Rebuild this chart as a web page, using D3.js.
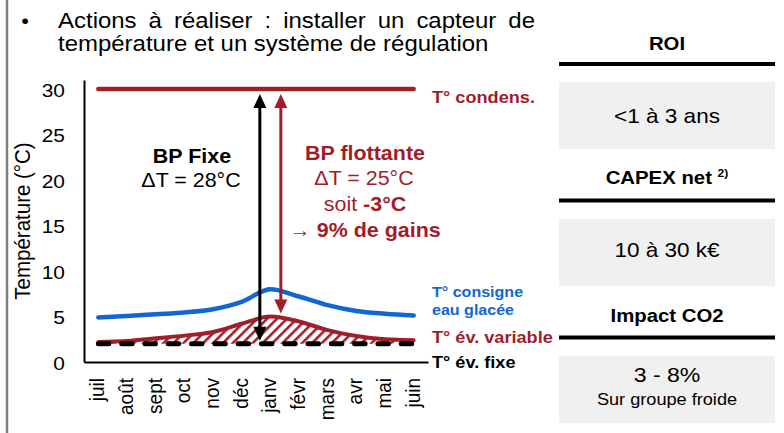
<!DOCTYPE html>
<html>
<head>
<meta charset="utf-8">
<script src="https://cdn.jsdelivr.net/npm/d3@7"></script>
<style>
  html, body { margin: 0; padding: 0; background: #fff; }
  svg { display: block; font-family: "Liberation Sans", Arial, sans-serif; }
</style>
</head>
<body>
<svg id="chart" width="784" height="433"></svg>
<script>
// Months of the cooling season (July → June)
const months = ["juil", "août", "sept", "oct", "nov", "déc", "janv", "févr", "mars", "avr", "mai", "juin"];
// Condensing temperature (°C), constant
const condens = [30, 30, 30, 30, 30, 30, 30, 30, 30, 30, 30, 30];
// Chilled-water set point (°C)
const consigne = [4.9, 5.05, 5.25, 5.45, 5.8, 6.6, 8.0, 7.2, 6.25, 5.6, 5.3, 5.1];
// Evaporating temperature with floating low pressure (°C)
const evVariable = [2.2, 2.3, 2.6, 2.9, 3.3, 4.2, 5.0, 4.45, 3.5, 2.85, 2.5, 2.4];
// Evaporating temperature with fixed low pressure (°C)
const evFixe = [2, 2, 2, 2, 2, 2, 2, 2, 2, 2, 2, 2];
// Temperature spans shown by the two arrows (low, high)
const bpFixe = [2, 30];
const bpFlottante = [5, 30];
const yTicks = [0, 5, 10, 15, 20, 25, 30];

// Side panel: heading / value pairs
const panelHeads = ["ROI", "CAPEX net ", "Impact CO2"];
const panelValues = ["<1 à 3 ans", "10 à 30 k€", "3 - 8%"];

const RED = "#a11d2a", BLUE = "#1366d2", SX = 1.1;
const FONT = '"Liberation Sans", Arial, sans-serif';
const svg = d3.select("#chart");

// Text helper: horizontally widened glyphs, optional rotation, mixed-weight segments
function label(parent, x, y, segs, o = {}) {
  const t = parent.append("text")
    .attr("transform", `translate(${x},${y}) scale(${o.sx || SX},1)` + (o.rot ? ` rotate(${o.rot})` : ""))
    .attr("text-anchor", o.anchor || "start")
    .attr("font-family", FONT)
    .attr("font-size", o.size || 18)
    .attr("fill", o.fill || "#000");
  if (typeof segs === "string") segs = [{ t: segs, w: o.weight || 400 }];
  segs.forEach(s => {
    const ts = t.append("tspan").text(s.t).attr("font-weight", s.w || 400);
    if (s.size) ts.attr("font-size", s.size);
    if (s.dy) ts.attr("dy", s.dy);
  });
  return t;
}

// Left frame line
svg.append("line").attr("x1", 7).attr("x2", 7).attr("y1", 0).attr("y2", 433)
  .attr("stroke", "#7f7f7f").attr("stroke-width", 2.5);

// Bullet text (first line justified)
label(svg, 25, 27.5, "•", { size: 20, anchor: "middle" });
const l1 = label(svg, 58, 27.5, "Actions à réaliser : installer un capteur de", { size: 21.8 });
{
  const natural = l1.node().getComputedTextLength();
  const target = (535 - 58) / SX;
  l1.attr("word-spacing", (target - natural) / 7);
}
label(svg, 58, 51, "température et un système de régulation", { size: 21.8 });

// Scales
const x = d3.scaleBand().domain(months).range([84, 428]);
const y = d3.scaleLinear().domain([0, 31]).range([362, 80]);
const cx = m => x(m) + x.bandwidth() / 2;

// Hatch pattern for the energy gain area
const defs = svg.append("defs");
const pat = defs.append("pattern").attr("id", "hatch").attr("patternUnits", "userSpaceOnUse")
  .attr("width", 7).attr("height", 7).attr("patternTransform", "rotate(45)");
pat.append("rect").attr("width", 7).attr("height", 7).attr("fill", "#fff");
pat.append("line").attr("x1", 1.3).attr("x2", 1.3).attr("y1", 0).attr("y2", 7)
  .attr("stroke", RED).attr("stroke-width", 2.6);

// Axes
const yAxis = svg.append("g").attr("transform", "translate(84,0)")
  .call(d3.axisLeft(y).tickValues(yTicks).tickSize(0).tickSizeOuter(0))
  .attr("font-family", FONT);
yAxis.select(".domain").attr("stroke", "#000").attr("stroke-width", 2);
yAxis.selectAll("text").attr("x", null).attr("dy", null).attr("font-size", 19)
  .attr("fill", "#000")
  .attr("transform", `translate(-19,7) scale(${SX},1)`);

const xAxis = svg.append("g").attr("transform", "translate(0,362)")
  .call(d3.axisBottom(x).tickSize(0).tickSizeOuter(0))
  .attr("font-family", FONT);
xAxis.select(".domain").attr("stroke", "#000").attr("stroke-width", 2);
xAxis.selectAll("text").attr("y", null).attr("dy", null).attr("font-size", 19)
  .attr("fill", "#000").attr("text-anchor", "end")
  .attr("transform", `translate(6,16) scale(${SX},1) rotate(-90)`);

label(svg, 30, 221, "Température (°C)", { size: 20.5, anchor: "middle", rot: -90 });

// Series
const line = d3.line().x((d, i) => cx(months[i])).y(d => y(d)).curve(d3.curveMonotoneX);
const area = d3.area().x((d, i) => cx(months[i])).y0((d, i) => y(evFixe[i])).y1(d => y(d))
  .curve(d3.curveMonotoneX);

svg.append("path").datum(evVariable).attr("d", area).attr("fill", "url(#hatch)");
svg.append("path").datum(evVariable).attr("d", line).attr("fill", "none")
  .attr("stroke", RED).attr("stroke-width", 4).attr("stroke-linecap", "round");
svg.append("path").datum(consigne).attr("d", line).attr("fill", "none")
  .attr("stroke", BLUE).attr("stroke-width", 4.5).attr("stroke-linecap", "round");
svg.append("path").datum(condens).attr("d", line).attr("fill", "none")
  .attr("stroke", RED).attr("stroke-width", 4.5).attr("stroke-linecap", "round");
svg.append("path").datum(evFixe).attr("d", line).attr("fill", "none")
  .attr("stroke", "#000").attr("stroke-width", 5).attr("stroke-linecap", "round")
  .attr("stroke-dasharray", "10.5,12.8");

// Double-headed arrows
function arrow(xp, span, color) {
  const top = y(span[1]) + 5, bot = y(span[0]) - 3, hl = 14, hw = 6.5;
  svg.append("line").attr("x1", xp).attr("x2", xp).attr("y1", top + hl - 1).attr("y2", bot - hl + 1)
    .attr("stroke", color).attr("stroke-width", 3);
  svg.append("path").attr("fill", color)
    .attr("d", `M${xp},${top}L${xp - hw},${top + hl}L${xp + hw},${top + hl}Z`);
  svg.append("path").attr("fill", color)
    .attr("d", `M${xp},${bot}L${xp - hw},${bot - hl}L${xp + hw},${bot - hl}Z`);
}
arrow(cx("janv") - 10.5, bpFixe, "#000");
arrow(cx("janv") + 10.5, bpFlottante, RED);

// Annotations
label(svg, 192, 163, "BP Fixe", { size: 19.5, weight: 700, anchor: "middle" });
label(svg, 191, 186.5, `ΔT = ${bpFixe[1] - bpFixe[0]}°C`, { size: 19.5, anchor: "middle" });
label(svg, 365, 160, "BP flottante", { size: 19.5, weight: 700, anchor: "middle", fill: RED });
label(svg, 364, 185, `ΔT = ${bpFlottante[1] - bpFlottante[0]}°C`, { size: 19.5, anchor: "middle", fill: RED });
label(svg, 365, 211, [{ t: "soit ", w: 400 }, { t: "-3°C", w: 700 }], { size: 19.5, anchor: "middle", fill: RED });
label(svg, 365, 236.5, [{ t: "→ ", w: 400 }, { t: "9% de gains", w: 700 }], { size: 19.5, anchor: "middle", fill: RED });

// Series labels
label(svg, 432, 103, "T° condens.", { size: 16.5, weight: 700, fill: RED });
label(svg, 432, 296.5, "T° consigne", { size: 14.6, weight: 700, fill: BLUE });
label(svg, 432, 315, "eau glacée", { size: 14.6, weight: 700, fill: BLUE });
label(svg, 432, 342.5, "T° év. variable", { size: 16.5, weight: 700, fill: RED });
label(svg, 432, 368, "T° év. fixe", { size: 16.5, weight: 700 });

// Side panel
const heads = [50, 184, 321.5], rules = [64, 200.5, 337.5], boxes = [82, 219, 356];
const PX0 = 559, PX1 = 775, PC = (PX0 + PX1) / 2;
panelHeads.forEach((h, i) => {
  const segs = [{ t: h, w: 700 }];
  if (i === 1) segs.push({ t: "2)", w: 700, size: 11, dy: -7 });
  label(svg, PC, heads[i], segs, { size: 18.5, anchor: "middle" });
  svg.append("line").attr("x1", PX0).attr("x2", PX1).attr("y1", rules[i]).attr("y2", rules[i])
    .attr("stroke", "#000").attr("stroke-width", 4);
  svg.append("rect").attr("x", PX0).attr("y", boxes[i]).attr("width", PX1 - PX0).attr("height", 67)
    .attr("fill", "#f0f0f0");
});
label(svg, PC, 123, panelValues[0], { size: 20.5, anchor: "middle" });
label(svg, PC, 257, panelValues[1], { size: 20.5, anchor: "middle" });
label(svg, PC, 381.5, panelValues[2], { size: 21, anchor: "middle" });
label(svg, PC, 405, "Sur groupe froide", { size: 16.5, anchor: "middle" });
</script>
</body>
</html>
